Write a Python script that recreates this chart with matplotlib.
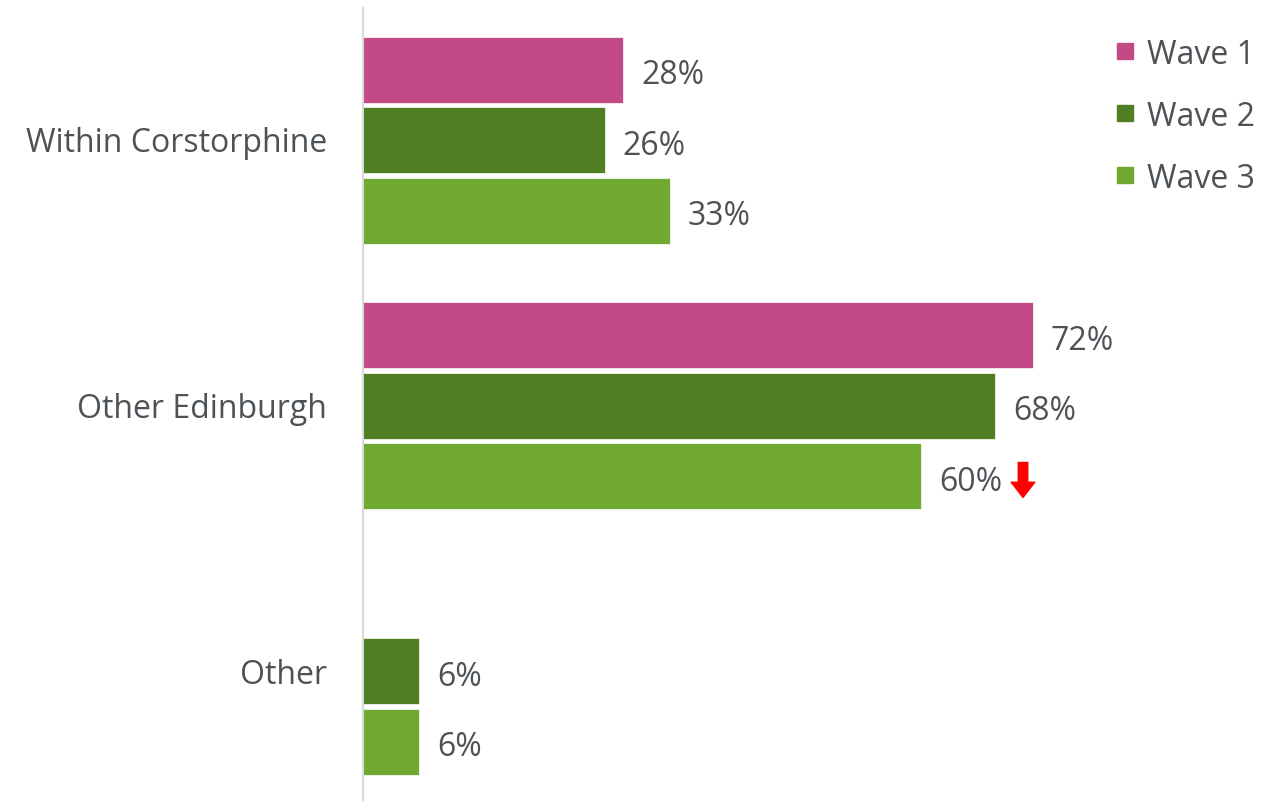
import matplotlib
matplotlib.use("Agg")
import matplotlib.pyplot as plt
from matplotlib.patches import Rectangle
import numpy as np

categories = ["Within Corstorphine", "Other Edinburgh", "Other"]
series = ["Wave 1", "Wave 2", "Wave 3"]
wave1 = [28, 72, None]
wave2 = [26, 68, 6]
wave3 = [33, 60, 6]
colors = ["#C34A86", "#507E22", "#6FA92F"]
text_color = "#4D5257"

plt.rcParams['font.family'] = ['Open Sans', 'DejaVu Sans']
FS = 23

W, H = 1281, 802
fig = plt.figure(figsize=(W / 100, H / 100), dpi=100)
ax_left, ax_right, ax_top, ax_bot = 363, 1281, 8, 800
ax = fig.add_axes([ax_left / W, 1 - ax_bot / H, (ax_right - ax_left) / W, (ax_bot - ax_top) / H])

px_per_unit = 9.3
xmax = (ax_right - ax_left) / px_per_unit
period = 265.5
pitch = 70.5 / period
bh = 66 / period

all_series = [wave1, wave2, wave3]
offsets = [-pitch, 0, pitch]
for s, (vals, col, off) in enumerate(zip(all_series, colors, offsets)):
    for i, v in enumerate(vals):
        if v is None:
            continue
        y = i + off
        ax.barh(y, v, height=bh, color=col, edgecolor="white", linewidth=0.5)
        ax.annotate(f"{v}%", xy=(v, y), xytext=(13, -1.5), textcoords="offset points",
                    ha="left", va="center_baseline", fontsize=FS, color=text_color)

# significance arrow next to Wave 3 "Other Edinburgh"
yc = 1 + pitch
xa = wave3[1] + 102 / px_per_unit
ax.annotate("", xy=(xa, yc + 21.5 / period), xytext=(xa, yc - 13.5 / period),
            arrowprops=dict(arrowstyle="simple,head_length=0.55,head_width=0.85,tail_width=0.34",
                            color="red", mutation_scale=20, shrinkA=0, shrinkB=0))

ax.set_xlim(0, xmax)
ax.set_ylim((ax_bot - 140) / period, (ax_top - 140) / period)
ax.set_yticks(range(len(categories)))
ax.set_yticklabels(categories, fontsize=FS, color=text_color)
ax.tick_params(axis="y", length=0, pad=26)
ax.set_xticks([])
for sp in ["top", "right", "bottom"]:
    ax.spines[sp].set_visible(False)
ax.spines["left"].set_color("#D9D9D9")
ax.spines["left"].set_linewidth(1.5)

# legend
for k, (name, col) in enumerate(zip(series, colors)):
    cy = 51 + 62 * k
    fig.add_artist(Rectangle(((1117) / W, 1 - (cy + 8) / H), 16 / W, 16 / H,
                             transform=fig.transFigure, color=col))
    fig.text(1147 / W, 1 - cy / H, name, ha="left", va="center_baseline", fontsize=FS, color=text_color)

fig.savefig("out.png", dpi=100)
